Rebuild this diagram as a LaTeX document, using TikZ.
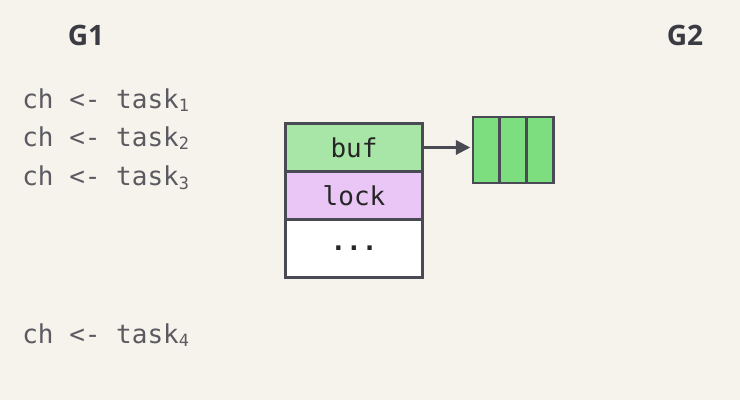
\documentclass[tikz,border=0pt]{standalone}
\usepackage{fontspec}
\setmainfont{Open Sans}
\setmonofont{DejaVu Sans Mono}
\usetikzlibrary{arrows.meta,positioning}

\definecolor{bgcol}{HTML}{F6F2EC}
\definecolor{edgecol}{HTML}{4A4A55}
\definecolor{codecol}{HTML}{5A5A60}
\definecolor{bufcol}{HTML}{A8E6A8}
\definecolor{lockcol}{HTML}{EAC6F6}
\definecolor{slotcol}{HTML}{7DDE80}

\newcommand{\sendline}[1]{ch <- task\raisebox{-0.25ex}{\fontsize{12}{12}\selectfont #1}}

\tikzset{
  gname/.style={font=\bfseries\fontsize{20}{24}\selectfont, text=edgecol!80!black},
  code/.style={anchor=west, inner sep=0pt, font=\ttfamily\fontsize{18.5}{22}\selectfont, text=codecol},
  field/.style={draw=edgecol, line width=2pt, minimum width=3.425cm, inner sep=0pt, outer sep=0pt,
    font=\ttfamily\fontsize{18.5}{22}\selectfont, text=black!85},
  slot/.style={draw=edgecol, line width=2pt, fill=slotcol, minimum width=0.667cm,
    minimum height=1.65cm, inner sep=0pt, outer sep=0pt}
}

\begin{document}
\begin{tikzpicture}
  \fill[bgcol] (0,0) rectangle (18.5,10);
  \useasboundingbox (0,0) rectangle (18.5,10);
  % Goroutines
  \node[gname] (g1) at (2.15,9.125) {G1};
  \node[gname] (g2) at (17.125,9.125) {G2};
  % Sends from G1
  \node[code] (send1) at (0.55,7.5) {\sendline{1}};
  \node[code] (send2) at (0.55,6.55) {\sendline{2}};
  \node[code] (send3) at (0.55,5.55) {\sendline{3}};
  \node[code] (send4) at (0.55,1.625) {\sendline{4}};
  % hchan struct
  \node[field, fill=bufcol, minimum height=1.2cm] (buf) at (8.85,6.3125) {buf};
  \node[field, fill=lockcol, minimum height=1.2cm, below=0pt of buf] (lock) {lock};
  \node[field, fill=white, minimum height=1.45cm, below=0pt of lock, font=\ttfamily\bfseries\fontsize{18.5}{22}\selectfont] (rest) {...};
  % Circular buffer
  \node[slot] (slot1) at (12.16,6.25) {};
  \node[slot, right=0pt of slot1] (slot2) {};
  \node[slot, right=0pt of slot2] (slot3) {};
  % Pointer
  \draw[-{Triangle[length=3.6mm,width=3.6mm]}, edgecol, line width=1.6pt, shorten >=2pt] (buf.east) -- (buf.east -| slot1.west);
\end{tikzpicture}
\end{document}
